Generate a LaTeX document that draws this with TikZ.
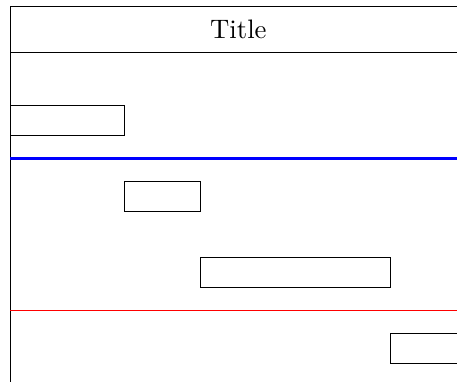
\documentclass[tikz,border=0pt]{standalone}
\begin{document}
\begin{tikzpicture}[x=0.5cm,y=-0.5cm,bar/.style={draw,fill=white}]
	\useasboundingbox (-0.27,-0.17) rectangle (11.75,9.86);
	\clip (-0.27,-0.17) rectangle (11.75,9.86);
	\draw (0,0) rectangle (12,10.5);
	\draw (0,1.2) -- (12,1.2);
	\node (title) at (6,0.6) {Title};
	\draw[blue,thick] (0,4) -- (12,4);
	\draw[red] (0,8) -- (12,8);
	\draw[bar] (0,2.6) rectangle (3,3.4);
	\draw[bar] (3,4.6) rectangle (5,5.4);
	\draw[bar] (5,6.6) rectangle (10,7.4);
	\draw[bar] (10,8.6) rectangle (12,9.4);
\end{tikzpicture}
\end{document}
